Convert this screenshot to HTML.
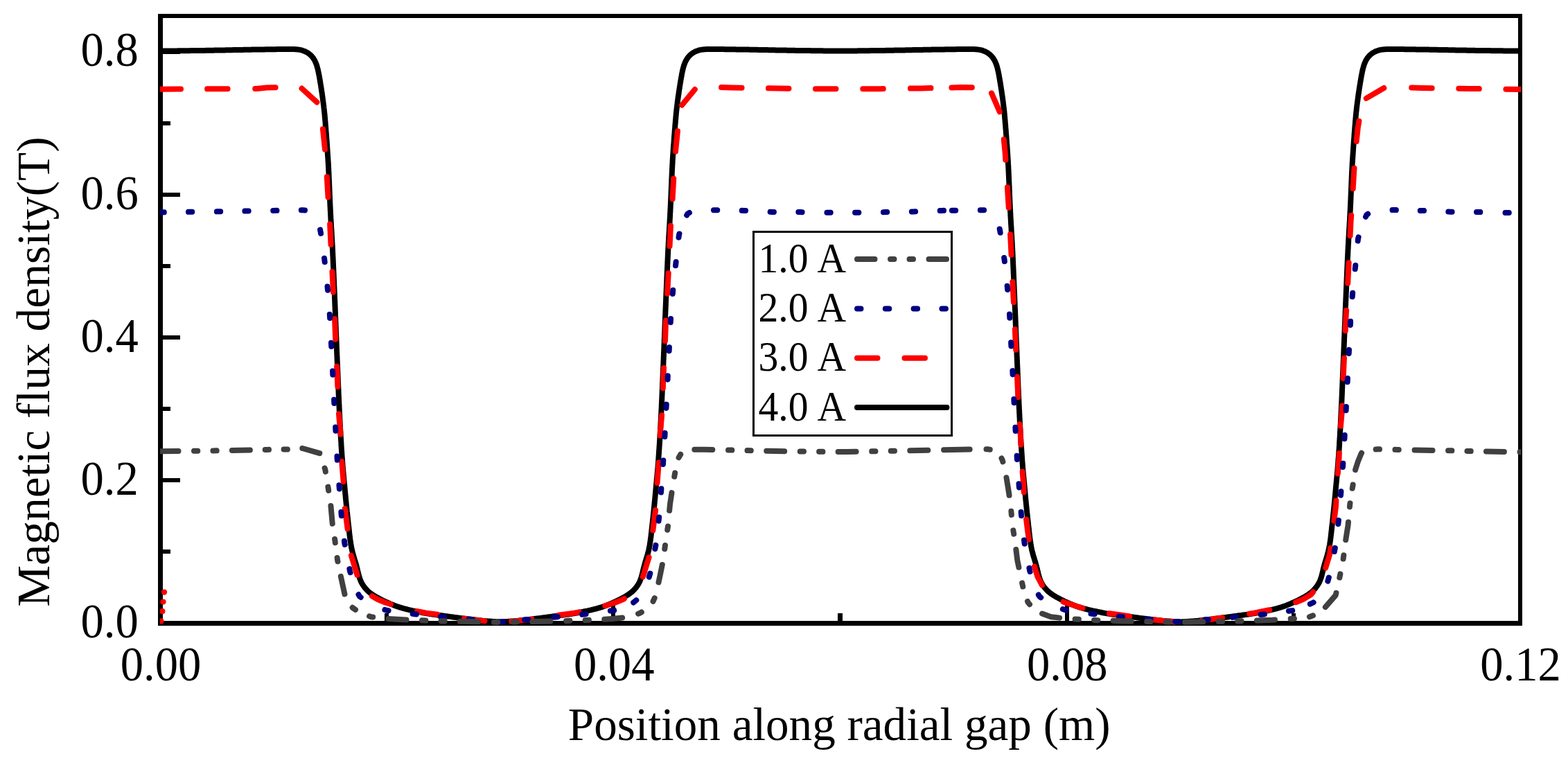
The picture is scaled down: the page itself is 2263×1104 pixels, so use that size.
<!DOCTYPE html>
<html lang="en">
<head>
<meta charset="utf-8">
<title>Magnetic flux density along radial gap</title>
<style>
html,body{margin:0;padding:0;background:#fff;}
body{width:2263px;height:1104px;overflow:hidden;}
svg{display:block;}
</style>
</head>
<body>
<svg width="2263" height="1104" viewBox="0 0 2263 1104">
<rect x="0" y="0" width="2263" height="1104" fill="#fff"/>
<g fill="#000">
<rect x="235" y="793" width="11" height="6"/>
<rect x="235" y="690" width="25" height="6"/>
<rect x="235" y="587" width="11" height="6"/>
<rect x="235" y="484" width="25" height="6"/>
<rect x="235" y="381" width="11" height="6"/>
<rect x="235" y="278" width="25" height="6"/>
<rect x="235" y="175" width="11" height="6"/>
<rect x="235" y="72" width="25" height="6"/>
<rect x="555" y="885" width="6" height="11"/>
<rect x="882" y="871" width="6" height="25"/>
<rect x="1209" y="885" width="7" height="11"/>
<rect x="1537" y="871" width="6" height="25"/>
<rect x="1864" y="885" width="6" height="11"/>
</g>
<g fill="#000"><rect x="228" y="20" width="7" height="883"/><rect x="228" y="20" width="1969" height="6"/><rect x="2191" y="20" width="6" height="883"/><rect x="228" y="896" width="1969" height="7"/></g>
<clipPath id="c"><rect x="231" y="20" width="1964" height="883"/></clipPath>
<g clip-path="url(#c)" fill="none" stroke-linecap="round" stroke-linejoin="round" stroke-width="8">
<path d="M231.5,73.6 L233.0,73.6 L234.5,73.6 L236.0,73.6 L237.5,73.5 L239.0,73.5 L240.5,73.5 L242.0,73.5 L243.5,73.5 L245.0,73.5 L246.5,73.5 L248.0,73.4 L249.5,73.4 L251.0,73.4 L252.5,73.4 L254.0,73.4 L255.5,73.4 L257.0,73.3 L258.5,73.3 L260.0,73.3 L261.5,73.3 L263.0,73.3 L264.5,73.3 L266.0,73.2 L267.5,73.2 L269.0,73.2 L270.5,73.2 L272.0,73.2 L273.5,73.2 L275.0,73.1 L276.5,73.1 L278.0,73.1 L279.5,73.1 L281.0,73.1 L282.5,73.0 L284.0,73.0 L285.5,73.0 L287.0,73.0 L288.5,73.0 L290.0,72.9 L291.5,72.9 L293.0,72.9 L294.5,72.9 L296.0,72.9 L297.5,72.8 L299.0,72.8 L300.5,72.8 L302.0,72.8 L303.5,72.7 L305.0,72.7 L306.5,72.7 L308.0,72.7 L309.5,72.6 L311.0,72.6 L312.5,72.6 L314.0,72.6 L315.5,72.5 L317.0,72.5 L318.5,72.5 L320.0,72.5 L321.5,72.4 L323.0,72.4 L324.5,72.4 L326.1,72.3 L327.6,72.3 L329.1,72.3 L330.6,72.2 L332.1,72.2 L333.6,72.2 L335.1,72.2 L336.6,72.1 L338.1,72.1 L339.6,72.1 L341.1,72.0 L342.6,72.0 L344.1,72.0 L345.6,71.9 L347.1,71.9 L348.6,71.9 L350.1,71.9 L351.6,71.8 L353.1,71.8 L354.6,71.8 L356.1,71.8 L357.6,71.7 L359.1,71.7 L360.6,71.7 L362.1,71.7 L363.6,71.6 L365.1,71.6 L366.6,71.6 L368.1,71.6 L369.6,71.5 L371.1,71.5 L372.6,71.5 L374.1,71.5 L375.6,71.5 L377.1,71.4 L378.6,71.4 L380.1,71.4 L381.6,71.4 L383.1,71.3 L384.6,71.3 L386.1,71.3 L387.6,71.3 L389.1,71.3 L390.6,71.2 L392.1,71.2 L393.6,71.2 L395.1,71.2 L396.6,71.2 L398.1,71.2 L399.6,71.1 L401.1,71.1 L402.6,71.1 L404.1,71.1 L405.6,71.1 L407.1,71.1 L408.6,71.1 L410.1,71.0 L411.6,71.0 L413.1,71.0 L414.6,71.0 L416.1,71.0 L417.6,71.0 L419.1,71.0 L420.6,71.0 L422.1,71.0 L423.6,71.1 L425.1,71.1 L426.6,71.2 L428.1,71.3 L429.6,71.4 L431.0,71.6 L432.5,71.8 L434.0,72.1 L435.4,72.4 L436.8,72.9 L438.2,73.4 L439.6,73.9 L440.9,74.5 L442.2,75.2 L443.5,75.9 L444.8,76.7 L446.0,77.6 L447.1,78.5 L448.2,79.5 L449.3,80.5 L450.3,81.6 L451.2,82.8 L452.1,83.9 L452.9,85.2 L453.7,86.4 L454.4,87.7 L455.0,89.1 L455.6,90.4 L456.2,91.8 L456.7,93.2 L457.2,94.6 L457.6,96.1 L458.0,97.5 L458.4,99.0 L458.8,100.4 L459.1,101.9 L459.4,103.3 L459.7,104.8 L460.0,106.3 L460.3,107.8 L460.6,109.2 L460.9,110.7 L461.1,112.2 L461.4,113.7 L461.6,115.1 L461.9,116.6 L462.1,118.1 L462.4,119.6 L462.6,121.1 L462.9,122.5 L463.1,124.0 L463.3,125.5 L463.6,127.0 L463.8,128.5 L464.0,130.0 L464.2,131.5 L464.4,132.9 L464.7,134.4 L464.9,135.9 L465.1,137.4 L465.3,138.9 L465.5,140.4 L465.7,141.9 L465.9,143.3 L466.1,144.8 L466.3,146.3 L466.5,147.8 L466.7,149.3 L466.9,150.8 L467.1,152.3 L467.3,153.8 L467.4,155.3 L467.6,156.7 L467.8,158.2 L467.9,159.7 L468.1,161.2 L468.3,162.7 L468.4,164.2 L468.6,165.7 L468.7,167.2 L468.8,168.7 L469.0,170.2 L469.1,171.7 L469.2,173.2 L469.4,174.7 L469.5,176.2 L469.6,177.7 L469.7,179.2 L469.8,180.6 L470.0,182.1 L470.1,183.6 L470.2,185.1 L470.3,186.6 L470.4,188.1 L470.5,189.6 L470.7,191.1 L470.8,192.6 L470.9,194.1 L471.0,195.6 L471.1,197.1 L471.2,198.6 L471.3,200.1 L471.5,201.6 L471.6,203.1 L471.7,204.6 L471.8,206.1 L471.9,207.6 L472.0,209.1 L472.1,210.6 L472.2,212.1 L472.3,213.6 L472.4,215.1 L472.5,216.6 L472.6,218.1 L472.7,219.6 L472.8,221.1 L472.9,222.6 L473.0,224.1 L473.1,225.6 L473.2,227.1 L473.3,228.6 L473.4,230.1 L473.5,231.5 L473.6,233.0 L473.7,234.5 L473.8,236.0 L473.9,237.5 L473.9,239.0 L474.0,240.5 L474.1,242.0 L474.2,243.5 L474.2,245.0 L474.3,246.5 L474.4,248.0 L474.5,249.5 L474.5,251.0 L474.6,252.5 L474.7,254.0 L474.7,255.5 L474.8,257.0 L474.9,258.5 L474.9,260.0 L475.0,261.5 L475.1,263.0 L475.1,264.5 L475.2,266.0 L475.2,267.5 L475.3,269.0 L475.4,270.5 L475.4,272.0 L475.5,273.5 L475.5,275.0 L475.6,276.5 L475.7,278.0 L475.7,279.5 L475.8,281.0 L475.9,282.5 L475.9,284.0 L476.0,285.5 L476.0,287.0 L476.1,288.5 L476.2,290.0 L476.2,291.5 L476.3,293.0 L476.4,294.5 L476.4,296.0 L476.5,297.5 L476.6,299.0 L476.7,300.5 L476.7,302.0 L476.8,303.5 L476.9,305.0 L477.0,306.5 L477.0,308.0 L477.1,309.5 L477.2,311.0 L477.3,312.5 L477.3,314.0 L477.4,315.5 L477.5,317.0 L477.6,318.5 L477.7,320.0 L477.8,321.5 L477.9,323.0 L477.9,324.5 L478.0,326.0 L478.1,327.5 L478.2,329.0 L478.3,330.5 L478.4,332.0 L478.5,333.5 L478.6,335.0 L478.7,336.5 L478.7,338.0 L478.8,339.5 L478.9,341.0 L479.0,342.5 L479.1,344.0 L479.2,345.5 L479.3,347.0 L479.3,348.5 L479.4,350.0 L479.5,351.5 L479.6,353.0 L479.7,354.5 L479.8,356.0 L479.8,357.5 L479.9,359.0 L480.0,360.5 L480.1,362.0 L480.1,363.5 L480.2,365.0 L480.3,366.5 L480.3,368.0 L480.4,369.5 L480.5,371.0 L480.6,372.5 L480.6,374.0 L480.7,375.5 L480.8,377.0 L480.8,378.5 L480.9,380.0 L481.0,381.5 L481.0,383.0 L481.1,384.5 L481.2,386.0 L481.2,387.5 L481.3,389.0 L481.4,390.5 L481.4,392.0 L481.5,393.5 L481.6,395.0 L481.6,396.5 L481.7,397.9 L481.7,399.4 L481.8,400.9 L481.9,402.4 L481.9,403.9 L482.0,405.4 L482.1,406.9 L482.1,408.4 L482.2,409.9 L482.2,411.4 L482.3,412.9 L482.4,414.4 L482.4,415.9 L482.5,417.4 L482.6,418.9 L482.6,420.4 L482.7,421.9 L482.8,423.4 L482.8,424.9 L482.9,426.4 L482.9,427.9 L483.0,429.4 L483.1,430.9 L483.1,432.4 L483.2,433.9 L483.3,435.4 L483.3,436.9 L483.4,438.4 L483.4,439.9 L483.5,441.4 L483.6,442.9 L483.6,444.4 L483.7,445.9 L483.7,447.4 L483.8,448.9 L483.9,450.4 L483.9,451.9 L484.0,453.4 L484.0,454.9 L484.1,456.4 L484.2,457.9 L484.2,459.4 L484.3,460.9 L484.3,462.4 L484.4,463.9 L484.5,465.4 L484.5,466.9 L484.6,468.4 L484.6,469.9 L484.7,471.4 L484.8,472.9 L484.8,474.4 L484.9,475.9 L484.9,477.4 L485.0,478.9 L485.1,480.4 L485.1,481.9 L485.2,483.4 L485.2,484.9 L485.3,486.4 L485.4,487.9 L485.4,489.4 L485.5,490.9 L485.5,492.4 L485.6,493.9 L485.7,495.4 L485.7,496.9 L485.8,498.4 L485.8,499.9 L485.9,501.4 L486.0,502.9 L486.0,504.4 L486.1,505.9 L486.1,507.4 L486.2,508.9 L486.3,510.4 L486.3,511.9 L486.4,513.4 L486.5,514.9 L486.5,516.4 L486.6,517.9 L486.6,519.4 L486.7,520.9 L486.8,522.4 L486.8,523.9 L486.9,525.4 L487.0,526.9 L487.0,528.4 L487.1,529.9 L487.1,531.4 L487.2,532.9 L487.3,534.4 L487.3,535.9 L487.4,537.4 L487.5,538.9 L487.5,540.4 L487.6,541.9 L487.6,543.4 L487.7,544.9 L487.8,546.4 L487.8,547.9 L487.9,549.4 L487.9,550.9 L488.0,552.4 L488.1,553.9 L488.1,555.4 L488.2,556.9 L488.3,558.4 L488.3,559.9 L488.4,561.4 L488.5,562.9 L488.5,564.4 L488.6,565.9 L488.6,567.4 L488.7,568.9 L488.8,570.4 L488.8,571.9 L488.9,573.4 L489.0,574.9 L489.0,576.4 L489.1,577.9 L489.2,579.4 L489.2,580.9 L489.3,582.4 L489.4,583.9 L489.5,585.4 L489.5,586.9 L489.6,588.4 L489.7,589.9 L489.7,591.4 L489.8,592.9 L489.9,594.4 L490.0,595.9 L490.0,597.4 L490.1,598.9 L490.2,600.4 L490.3,601.9 L490.3,603.4 L490.4,604.9 L490.5,606.4 L490.6,607.9 L490.6,609.4 L490.7,610.9 L490.8,612.4 L490.9,613.9 L491.0,615.4 L491.0,616.9 L491.1,618.4 L491.2,619.9 L491.3,621.4 L491.4,622.9 L491.5,624.4 L491.5,625.9 L491.6,627.4 L491.7,628.9 L491.8,630.4 L491.9,631.9 L492.0,633.4 L492.1,634.9 L492.2,636.4 L492.3,637.9 L492.4,639.4 L492.4,640.9 L492.5,642.4 L492.6,643.9 L492.7,645.4 L492.8,646.9 L492.9,648.4 L493.0,649.9 L493.1,651.3 L493.2,652.8 L493.3,654.3 L493.4,655.8 L493.5,657.3 L493.6,658.8 L493.7,660.3 L493.9,661.8 L494.0,663.3 L494.1,664.8 L494.2,666.3 L494.3,667.8 L494.4,669.3 L494.5,670.8 L494.6,672.3 L494.8,673.8 L494.9,675.3 L495.0,676.8 L495.1,678.3 L495.3,679.8 L495.4,681.3 L495.6,682.8 L495.7,684.3 L495.8,685.8 L496.0,687.3 L496.1,688.7 L496.3,690.2 L496.4,691.7 L496.5,693.2 L496.7,694.7 L496.8,696.2 L497.0,697.7 L497.1,699.2 L497.3,700.7 L497.4,702.2 L497.5,703.7 L497.7,705.2 L497.8,706.7 L497.9,708.2 L498.1,709.7 L498.2,711.2 L498.3,712.7 L498.5,714.2 L498.6,715.6 L498.8,717.1 L498.9,718.6 L499.0,720.1 L499.2,721.6 L499.3,723.1 L499.5,724.6 L499.6,726.1 L499.8,727.6 L499.9,729.1 L500.1,730.6 L500.2,732.1 L500.4,733.6 L500.5,735.1 L500.7,736.6 L500.8,738.1 L501.0,739.5 L501.2,741.0 L501.3,742.5 L501.5,744.0 L501.6,745.5 L501.8,747.0 L502.0,748.5 L502.1,750.0 L502.3,751.5 L502.4,753.0 L502.6,754.5 L502.8,756.0 L502.9,757.5 L503.1,758.9 L503.3,760.4 L503.4,761.9 L503.6,763.4 L503.7,764.9 L503.9,766.4 L504.1,767.9 L504.2,769.4 L504.4,770.9 L504.6,772.4 L504.8,773.9 L504.9,775.4 L505.1,776.8 L505.3,778.3 L505.5,779.8 L505.7,781.3 L506.0,782.8 L506.2,784.3 L506.4,785.8 L506.7,787.2 L507.0,788.7 L507.2,790.2 L507.5,791.6 L507.9,793.1 L508.2,794.6 L508.5,796.0 L508.9,797.5 L509.3,798.9 L509.7,800.4 L510.1,801.8 L510.5,803.3 L510.9,804.7 L511.4,806.1 L511.8,807.6 L512.3,809.0 L512.7,810.4 L513.1,811.9 L513.6,813.3 L514.0,814.8 L514.4,816.2 L514.8,817.7 L515.1,819.2 L515.5,820.6 L515.9,822.1 L516.2,823.6 L516.6,825.0 L516.9,826.5 L517.3,828.0 L517.6,829.4 L518.0,830.9 L518.4,832.3 L518.9,833.7 L519.3,835.1 L519.9,836.5 L520.4,837.9 L521.0,839.2 L521.6,840.6 L522.3,841.9 L523.1,843.2 L523.9,844.4 L524.7,845.7 L525.6,846.9 L526.5,848.1 L527.4,849.2 L528.4,850.3 L529.4,851.4 L530.5,852.5 L531.5,853.5 L532.7,854.5 L533.8,855.4 L535.0,856.3 L536.2,857.2 L537.5,858.0 L538.7,858.8 L540.0,859.6 L541.3,860.4 L542.6,861.2 L543.9,861.9 L545.2,862.6 L546.5,863.3 L547.8,864.0 L549.2,864.7 L550.5,865.4 L551.8,866.1 L553.2,866.8 L554.5,867.4 L555.9,868.1 L557.3,868.7 L558.6,869.3 L560.0,869.9 L561.4,870.5 L562.7,871.1 L564.1,871.7 L565.5,872.3 L566.9,872.8 L568.3,873.4 L569.7,873.9 L571.1,874.4 L572.5,874.9 L573.9,875.4 L575.4,875.9 L576.8,876.4 L578.2,876.8 L579.7,877.2 L581.1,877.7 L582.5,878.1 L584.0,878.5 L585.4,878.8 L586.9,879.2 L588.4,879.6 L589.8,879.9 L591.3,880.3 L592.7,880.6 L594.2,880.9 L595.7,881.3 L597.1,881.6 L598.6,881.9 L600.1,882.2 L601.5,882.5 L603.0,882.8 L604.5,883.1 L605.9,883.4 L607.4,883.7 L608.9,884.0 L610.4,884.3 L611.8,884.6 L613.3,884.9 L614.8,885.1 L616.3,885.4 L617.8,885.6 L619.2,885.8 L620.7,886.1 L622.2,886.3 L623.7,886.5 L625.2,886.7 L626.7,886.9 L628.1,887.1 L629.6,887.3 L631.1,887.5 L632.6,887.7 L634.1,887.9 L635.6,888.1 L637.1,888.3 L638.6,888.5 L640.0,888.7 L641.5,888.9 L643.0,889.1 L644.5,889.3 L646.0,889.5 L647.5,889.7 L649.0,889.9 L650.5,890.1 L652.0,890.3 L653.4,890.5 L654.9,890.7 L656.4,890.9 L657.9,891.1 L659.4,891.3 L660.9,891.5 L662.4,891.7 L663.9,891.9 L665.3,892.1 L666.8,892.3 L668.3,892.5 L669.8,892.6 L671.3,892.8 L672.8,893.0 L674.3,893.2 L675.8,893.4 L677.3,893.6 L678.7,893.8 L680.2,894.0 L681.7,894.1 L683.2,894.3 L684.7,894.5 L686.2,894.6 L687.7,894.8 L689.2,895.0 L690.7,895.1 L692.2,895.3 L693.7,895.5 L695.2,895.6 L696.6,895.8 L698.1,895.9 L699.6,896.0 L701.1,896.2 L702.6,896.3 L704.1,896.4 L705.6,896.5 L707.1,896.6 L708.6,896.7 L710.1,896.8 L711.6,896.9 L713.1,897.0 L714.6,897.1 L716.1,897.2 L717.6,897.3 L719.1,897.3 L720.6,897.4 L722.1,897.5 L723.6,897.4 L725.1,897.3 L726.6,897.3 L728.1,897.2 L729.6,897.1 L731.1,897.0 L732.6,896.9 L734.1,896.8 L735.6,896.7 L737.1,896.6 L738.6,896.5 L740.1,896.4 L741.6,896.3 L743.1,896.2 L744.6,896.0 L746.1,895.9 L747.6,895.8 L749.1,895.6 L750.6,895.5 L752.1,895.3 L753.6,895.1 L755.1,895.0 L756.6,894.8 L758.1,894.6 L759.5,894.5 L761.0,894.3 L762.5,894.1 L764.0,894.0 L765.5,893.8 L767.0,893.6 L768.5,893.4 L770.0,893.2 L771.5,893.0 L773.0,892.8 L774.4,892.6 L775.9,892.5 L777.4,892.3 L778.9,892.1 L780.4,891.9 L781.9,891.7 L783.4,891.5 L784.9,891.3 L786.3,891.1 L787.8,890.9 L789.3,890.7 L790.8,890.5 L792.3,890.3 L793.8,890.1 L795.3,889.9 L796.8,889.7 L798.2,889.5 L799.7,889.3 L801.2,889.1 L802.7,888.9 L804.2,888.7 L805.7,888.5 L807.2,888.3 L808.7,888.1 L810.2,887.9 L811.6,887.7 L813.1,887.5 L814.6,887.3 L816.1,887.1 L817.6,886.9 L819.1,886.7 L820.6,886.5 L822.1,886.3 L823.5,886.1 L825.0,885.8 L826.5,885.6 L828.0,885.4 L829.5,885.1 L830.9,884.9 L832.4,884.6 L833.9,884.3 L835.4,884.0 L836.8,883.7 L838.3,883.4 L839.8,883.1 L841.2,882.8 L842.7,882.5 L844.2,882.2 L845.7,881.9 L847.1,881.6 L848.6,881.3 L850.1,880.9 L851.5,880.6 L853.0,880.3 L854.4,879.9 L855.9,879.6 L857.4,879.2 L858.8,878.8 L860.3,878.5 L861.7,878.1 L863.2,877.7 L864.6,877.2 L866.0,876.8 L867.5,876.4 L868.9,875.9 L870.3,875.4 L871.7,874.9 L873.1,874.4 L874.5,873.9 L875.9,873.4 L877.3,872.8 L878.7,872.3 L880.1,871.7 L881.5,871.1 L882.9,870.5 L884.3,869.9 L885.6,869.3 L887.0,868.7 L888.4,868.1 L889.7,867.4 L891.1,866.8 L892.4,866.1 L893.8,865.4 L895.1,864.7 L896.4,864.0 L897.8,863.3 L899.1,862.6 L900.4,861.9 L901.7,861.2 L903.0,860.4 L904.3,859.6 L905.5,858.8 L906.8,858.0 L908.0,857.2 L909.2,856.3 L910.4,855.4 L911.6,854.5 L912.7,853.5 L913.8,852.5 L914.8,851.4 L915.9,850.3 L916.8,849.2 L917.8,848.1 L918.7,846.9 L919.6,845.7 L920.4,844.4 L921.2,843.2 L921.9,841.9 L922.6,840.6 L923.3,839.2 L923.8,837.9 L924.4,836.5 L924.9,835.1 L925.4,833.7 L925.8,832.3 L926.2,830.9 L926.6,829.4 L927.0,828.0 L927.3,826.5 L927.7,825.0 L928.0,823.6 L928.4,822.1 L928.8,820.6 L929.1,819.2 L929.5,817.7 L929.9,816.2 L930.3,814.8 L930.7,813.3 L931.1,811.9 L931.5,810.4 L932.0,809.0 L932.4,807.6 L932.9,806.1 L933.3,804.7 L933.7,803.3 L934.2,801.8 L934.6,800.4 L935.0,798.9 L935.3,797.5 L935.7,796.0 L936.1,794.6 L936.4,793.1 L936.7,791.6 L937.0,790.2 L937.3,788.7 L937.6,787.2 L937.8,785.8 L938.0,784.3 L938.3,782.8 L938.5,781.3 L938.7,779.8 L938.9,778.3 L939.1,776.8 L939.3,775.4 L939.5,773.9 L939.7,772.4 L939.8,770.9 L940.0,769.4 L940.2,767.9 L940.4,766.4 L940.5,764.9 L940.7,763.4 L940.8,761.9 L941.0,760.4 L941.2,758.9 L941.3,757.5 L941.5,756.0 L941.6,754.5 L941.8,753.0 L942.0,751.5 L942.1,750.0 L942.3,748.5 L942.5,747.0 L942.6,745.5 L942.8,744.0 L942.9,742.5 L943.1,741.0 L943.3,739.5 L943.4,738.1 L943.6,736.6 L943.7,735.1 L943.9,733.6 L944.0,732.1 L944.2,730.6 L944.3,729.1 L944.5,727.6 L944.6,726.1 L944.8,724.6 L944.9,723.1 L945.1,721.6 L945.2,720.1 L945.4,718.6 L945.5,717.1 L945.6,715.6 L945.8,714.2 L945.9,712.7 L946.0,711.2 L946.2,709.7 L946.3,708.2 L946.4,706.7 L946.6,705.2 L946.7,703.7 L946.9,702.2 L947.0,700.7 L947.1,699.2 L947.3,697.7 L947.4,696.2 L947.6,694.7 L947.7,693.2 L947.8,691.7 L948.0,690.2 L948.1,688.7 L948.3,687.3 L948.4,685.8 L948.6,684.3 L948.7,682.8 L948.8,681.3 L949.0,679.8 L949.1,678.3 L949.2,676.8 L949.4,675.3 L949.5,673.8 L949.6,672.3 L949.7,670.8 L949.8,669.3 L950.0,667.8 L950.1,666.3 L950.2,664.8 L950.3,663.3 L950.4,661.8 L950.5,660.3 L950.6,658.8 L950.7,657.3 L950.8,655.8 L950.9,654.3 L951.0,652.8 L951.1,651.3 L951.2,649.9 L951.3,648.4 L951.4,646.9 L951.5,645.4 L951.6,643.9 L951.7,642.4 L951.8,640.9 L951.9,639.4 L952.0,637.9 L952.1,636.4 L952.2,634.9 L952.3,633.4 L952.4,631.9 L952.4,630.4 L952.5,628.9 L952.6,627.4 L952.7,625.9 L952.8,624.4 L952.9,622.9 L953.0,621.4 L953.0,619.9 L953.1,618.4 L953.2,616.9 L953.3,615.4 L953.4,613.9 L953.4,612.4 L953.5,610.9 L953.6,609.4 L953.7,607.9 L953.8,606.4 L953.8,604.9 L953.9,603.4 L954.0,601.9 L954.1,600.4 L954.1,598.9 L954.2,597.4 L954.3,595.9 L954.4,594.4 L954.4,592.9 L954.5,591.4 L954.6,589.9 L954.7,588.4 L954.7,586.9 L954.8,585.4 L954.9,583.9 L954.9,582.4 L955.0,580.9 L955.1,579.4 L955.1,577.9 L955.2,576.4 L955.3,574.9 L955.3,573.4 L955.4,571.9 L955.5,570.4 L955.5,568.9 L955.6,567.4 L955.7,565.9 L955.7,564.4 L955.8,562.9 L955.9,561.4 L955.9,559.9 L956.0,558.4 L956.1,556.9 L956.1,555.4 L956.2,553.9 L956.2,552.4 L956.3,550.9 L956.4,549.4 L956.4,547.9 L956.5,546.4 L956.5,544.9 L956.6,543.4 L956.7,541.9 L956.7,540.4 L956.8,538.9 L956.9,537.4 L956.9,535.9 L957.0,534.4 L957.0,532.9 L957.1,531.4 L957.2,529.9 L957.2,528.4 L957.3,526.9 L957.4,525.4 L957.4,523.9 L957.5,522.4 L957.5,520.9 L957.6,519.4 L957.7,517.9 L957.7,516.4 L957.8,514.9 L957.9,513.4 L957.9,511.9 L958.0,510.4 L958.0,508.9 L958.1,507.4 L958.2,505.9 L958.2,504.4 L958.3,502.9 L958.4,501.4 L958.4,499.9 L958.5,498.4 L958.5,496.9 L958.6,495.4 L958.7,493.9 L958.7,492.4 L958.8,490.9 L958.8,489.4 L958.9,487.9 L959.0,486.4 L959.0,484.9 L959.1,483.4 L959.1,481.9 L959.2,480.4 L959.3,478.9 L959.3,477.4 L959.4,475.9 L959.4,474.4 L959.5,472.9 L959.5,471.4 L959.6,469.9 L959.7,468.4 L959.7,466.9 L959.8,465.4 L959.8,463.9 L959.9,462.4 L960.0,460.9 L960.0,459.4 L960.1,457.9 L960.1,456.4 L960.2,454.9 L960.3,453.4 L960.3,451.9 L960.4,450.4 L960.4,448.9 L960.5,447.4 L960.6,445.9 L960.6,444.4 L960.7,442.9 L960.8,441.4 L960.8,439.9 L960.9,438.4 L960.9,436.9 L961.0,435.4 L961.1,433.9 L961.1,432.4 L961.2,430.9 L961.2,429.4 L961.3,427.9 L961.4,426.4 L961.4,424.9 L961.5,423.4 L961.6,421.9 L961.6,420.4 L961.7,418.9 L961.8,417.4 L961.8,415.9 L961.9,414.4 L961.9,412.9 L962.0,411.4 L962.1,409.9 L962.1,408.4 L962.2,406.9 L962.3,405.4 L962.3,403.9 L962.4,402.4 L962.4,400.9 L962.5,399.4 L962.6,397.9 L962.6,396.5 L962.7,395.0 L962.8,393.5 L962.8,392.0 L962.9,390.5 L963.0,389.0 L963.0,387.5 L963.1,386.0 L963.2,384.5 L963.2,383.0 L963.3,381.5 L963.4,380.0 L963.4,378.5 L963.5,377.0 L963.6,375.5 L963.6,374.0 L963.7,372.5 L963.8,371.0 L963.8,369.5 L963.9,368.0 L964.0,366.5 L964.0,365.0 L964.1,363.5 L964.2,362.0 L964.3,360.5 L964.3,359.0 L964.4,357.5 L964.5,356.0 L964.6,354.5 L964.7,353.0 L964.7,351.5 L964.8,350.0 L964.9,348.5 L965.0,347.0 L965.1,345.5 L965.2,344.0 L965.2,342.5 L965.3,341.0 L965.4,339.5 L965.5,338.0 L965.6,336.5 L965.7,335.0 L965.8,333.5 L965.9,332.0 L965.9,330.5 L966.0,329.0 L966.1,327.5 L966.2,326.0 L966.3,324.5 L966.4,323.0 L966.5,321.5 L966.6,320.0 L966.6,318.5 L966.7,317.0 L966.8,315.5 L966.9,314.0 L967.0,312.5 L967.1,311.0 L967.1,309.5 L967.2,308.0 L967.3,306.5 L967.4,305.0 L967.4,303.5 L967.5,302.0 L967.6,300.5 L967.7,299.0 L967.7,297.5 L967.8,296.0 L967.9,294.5 L967.9,293.0 L968.0,291.5 L968.1,290.0 L968.1,288.5 L968.2,287.0 L968.3,285.5 L968.3,284.0 L968.4,282.5 L968.5,281.0 L968.5,279.5 L968.6,278.0 L968.6,276.5 L968.7,275.0 L968.8,273.5 L968.8,272.0 L968.9,270.5 L968.9,269.0 L969.0,267.5 L969.1,266.0 L969.1,264.5 L969.2,263.0 L969.3,261.5 L969.3,260.0 L969.4,258.5 L969.5,257.0 L969.5,255.5 L969.6,254.0 L969.7,252.5 L969.7,251.0 L969.8,249.5 L969.9,248.0 L969.9,246.5 L970.0,245.0 L970.1,243.5 L970.2,242.0 L970.2,240.5 L970.3,239.0 L970.4,237.5 L970.5,236.0 L970.6,234.5 L970.6,233.0 L970.7,231.5 L970.8,230.1 L970.9,228.6 L971.0,227.1 L971.1,225.6 L971.2,224.1 L971.3,222.6 L971.4,221.1 L971.5,219.6 L971.6,218.1 L971.7,216.6 L971.8,215.1 L971.9,213.6 L972.0,212.1 L972.1,210.6 L972.2,209.1 L972.4,207.6 L972.5,206.1 L972.6,204.6 L972.7,203.1 L972.8,201.6 L972.9,200.1 L973.0,198.6 L973.1,197.1 L973.2,195.6 L973.4,194.1 L973.5,192.6 L973.6,191.1 L973.7,189.6 L973.8,188.1 L973.9,186.6 L974.1,185.1 L974.2,183.6 L974.3,182.1 L974.4,180.6 L974.5,179.2 L974.7,177.7 L974.8,176.2 L974.9,174.7 L975.0,173.2 L975.2,171.7 L975.3,170.2 L975.4,168.7 L975.6,167.2 L975.7,165.7 L975.8,164.2 L976.0,162.7 L976.1,161.2 L976.3,159.7 L976.5,158.2 L976.6,156.7 L976.8,155.3 L977.0,153.8 L977.2,152.3 L977.4,150.8 L977.6,149.3 L977.7,147.8 L977.9,146.3 L978.1,144.8 L978.3,143.3 L978.5,141.9 L978.7,140.4 L978.9,138.9 L979.2,137.4 L979.4,135.9 L979.6,134.4 L979.8,132.9 L980.0,131.5 L980.2,130.0 L980.5,128.5 L980.7,127.0 L980.9,125.5 L981.2,124.0 L981.4,122.5 L981.6,121.1 L981.9,119.6 L982.1,118.1 L982.4,116.6 L982.6,115.1 L982.9,113.7 L983.1,112.2 L983.4,110.7 L983.7,109.2 L983.9,107.8 L984.2,106.3 L984.5,104.8 L984.8,103.3 L985.1,101.9 L985.5,100.4 L985.8,99.0 L986.2,97.5 L986.6,96.1 L987.1,94.6 L987.5,93.2 L988.1,91.8 L988.6,90.4 L989.2,89.1 L989.9,87.7 L990.6,86.4 L991.3,85.2 L992.2,83.9 L993.0,82.8 L994.0,81.6 L995.0,80.5 L996.0,79.5 L997.1,78.5 L998.3,77.6 L999.5,76.7 L1000.7,75.9 L1002.0,75.2 L1003.3,74.5 L1004.7,73.9 L1006.0,73.4 L1007.4,72.9 L1008.9,72.4 L1010.3,72.1 L1011.7,71.8 L1013.2,71.6 L1014.7,71.4 L1016.2,71.3 L1017.6,71.2 L1019.1,71.1 L1020.6,71.1 L1022.1,71.0 L1023.6,71.0 L1025.1,71.0 L1026.6,71.0 L1028.1,71.0 L1029.7,71.0 L1031.2,71.0 L1032.7,71.0 L1034.2,71.0 L1035.7,71.1 L1037.2,71.1 L1038.7,71.1 L1040.2,71.1 L1041.7,71.1 L1043.2,71.1 L1044.7,71.1 L1046.2,71.2 L1047.7,71.2 L1049.2,71.2 L1050.7,71.2 L1052.2,71.2 L1053.7,71.2 L1055.2,71.3 L1056.7,71.3 L1058.2,71.3 L1059.7,71.3 L1061.2,71.3 L1062.7,71.4 L1064.2,71.4 L1065.7,71.4 L1067.2,71.4 L1068.7,71.5 L1070.2,71.5 L1071.7,71.5 L1073.2,71.5 L1074.7,71.5 L1076.2,71.6 L1077.7,71.6 L1079.2,71.6 L1080.7,71.6 L1082.2,71.7 L1083.7,71.7 L1085.2,71.7 L1086.7,71.7 L1088.2,71.8 L1089.7,71.8 L1091.2,71.8 L1092.7,71.8 L1094.2,71.9 L1095.7,71.9 L1097.2,71.9 L1098.7,71.9 L1100.2,72.0 L1101.7,72.0 L1103.2,72.0 L1104.7,72.1 L1106.2,72.1 L1107.7,72.1 L1109.2,72.2 L1110.7,72.2 L1112.2,72.2 L1113.7,72.2 L1115.2,72.3 L1116.7,72.3 L1118.2,72.3 L1119.7,72.4 L1121.2,72.4 L1122.7,72.4 L1124.2,72.5 L1125.7,72.5 L1127.2,72.5 L1128.7,72.5 L1130.2,72.6 L1131.7,72.6 L1133.2,72.6 L1134.7,72.6 L1136.2,72.7 L1137.7,72.7 L1139.2,72.7 L1140.7,72.7 L1142.2,72.8 L1143.7,72.8 L1145.2,72.8 L1146.7,72.8 L1148.2,72.9 L1149.7,72.9 L1151.2,72.9 L1152.7,72.9 L1154.2,72.9 L1155.7,73.0 L1157.2,73.0 L1158.7,73.0 L1160.2,73.0 L1161.7,73.0 L1163.2,73.1 L1164.7,73.1 L1166.2,73.1 L1167.7,73.1 L1169.2,73.1 L1170.7,73.2 L1172.2,73.2 L1173.7,73.2 L1175.2,73.2 L1176.7,73.2 L1178.2,73.2 L1179.7,73.3 L1181.2,73.3 L1182.7,73.3 L1184.2,73.3 L1185.7,73.3 L1187.2,73.3 L1188.7,73.4 L1190.2,73.4 L1191.7,73.4 L1193.2,73.4 L1194.7,73.4 L1196.2,73.4 L1197.7,73.5 L1199.2,73.5 L1200.7,73.5 L1202.2,73.5 L1203.7,73.5 L1205.2,73.5 L1206.7,73.5 L1208.2,73.6 L1209.7,73.6 L1211.2,73.6 L1212.8,73.6 L1214.3,73.6 L1215.8,73.6 L1217.3,73.6 L1218.8,73.5 L1220.3,73.5 L1221.8,73.5 L1223.3,73.5 L1224.8,73.5 L1226.3,73.5 L1227.8,73.5 L1229.3,73.4 L1230.8,73.4 L1232.3,73.4 L1233.8,73.4 L1235.3,73.4 L1236.8,73.4 L1238.3,73.3 L1239.8,73.3 L1241.3,73.3 L1242.8,73.3 L1244.3,73.3 L1245.8,73.3 L1247.3,73.2 L1248.8,73.2 L1250.3,73.2 L1251.8,73.2 L1253.3,73.2 L1254.8,73.2 L1256.3,73.1 L1257.8,73.1 L1259.3,73.1 L1260.8,73.1 L1262.3,73.1 L1263.8,73.0 L1265.3,73.0 L1266.8,73.0 L1268.3,73.0 L1269.8,73.0 L1271.3,72.9 L1272.8,72.9 L1274.3,72.9 L1275.8,72.9 L1277.3,72.9 L1278.8,72.8 L1280.3,72.8 L1281.8,72.8 L1283.3,72.8 L1284.8,72.7 L1286.3,72.7 L1287.8,72.7 L1289.3,72.7 L1290.8,72.6 L1292.3,72.6 L1293.8,72.6 L1295.3,72.6 L1296.8,72.5 L1298.3,72.5 L1299.8,72.5 L1301.3,72.5 L1302.8,72.4 L1304.3,72.4 L1305.8,72.4 L1307.3,72.3 L1308.8,72.3 L1310.3,72.3 L1311.8,72.2 L1313.3,72.2 L1314.8,72.2 L1316.3,72.2 L1317.8,72.1 L1319.3,72.1 L1320.8,72.1 L1322.3,72.0 L1323.8,72.0 L1325.3,72.0 L1326.8,71.9 L1328.3,71.9 L1329.8,71.9 L1331.3,71.9 L1332.8,71.8 L1334.3,71.8 L1335.8,71.8 L1337.3,71.8 L1338.8,71.7 L1340.3,71.7 L1341.8,71.7 L1343.3,71.7 L1344.8,71.6 L1346.3,71.6 L1347.8,71.6 L1349.3,71.6 L1350.8,71.5 L1352.3,71.5 L1353.8,71.5 L1355.3,71.5 L1356.8,71.5 L1358.3,71.4 L1359.8,71.4 L1361.3,71.4 L1362.8,71.4 L1364.3,71.3 L1365.8,71.3 L1367.3,71.3 L1368.8,71.3 L1370.3,71.3 L1371.8,71.2 L1373.3,71.2 L1374.8,71.2 L1376.3,71.2 L1377.8,71.2 L1379.3,71.2 L1380.8,71.1 L1382.3,71.1 L1383.8,71.1 L1385.3,71.1 L1386.8,71.1 L1388.3,71.1 L1389.8,71.1 L1391.3,71.0 L1392.8,71.0 L1394.3,71.0 L1395.8,71.0 L1397.4,71.0 L1398.9,71.0 L1400.4,71.0 L1401.9,71.0 L1403.4,71.0 L1404.9,71.1 L1406.4,71.1 L1407.9,71.2 L1409.3,71.3 L1410.8,71.4 L1412.3,71.6 L1413.8,71.8 L1415.2,72.1 L1416.6,72.4 L1418.1,72.9 L1419.5,73.4 L1420.8,73.9 L1422.2,74.5 L1423.5,75.2 L1424.8,75.9 L1426.0,76.7 L1427.2,77.6 L1428.4,78.5 L1429.5,79.5 L1430.5,80.5 L1431.5,81.6 L1432.5,82.8 L1433.3,83.9 L1434.2,85.2 L1434.9,86.4 L1435.6,87.7 L1436.3,89.1 L1436.9,90.4 L1437.4,91.8 L1438.0,93.2 L1438.4,94.6 L1438.9,96.1 L1439.3,97.5 L1439.7,99.0 L1440.0,100.4 L1440.4,101.9 L1440.7,103.3 L1441.0,104.8 L1441.3,106.3 L1441.6,107.8 L1441.8,109.2 L1442.1,110.7 L1442.4,112.2 L1442.6,113.7 L1442.9,115.1 L1443.1,116.6 L1443.4,118.1 L1443.6,119.6 L1443.9,121.1 L1444.1,122.5 L1444.3,124.0 L1444.6,125.5 L1444.8,127.0 L1445.0,128.5 L1445.3,130.0 L1445.5,131.5 L1445.7,132.9 L1445.9,134.4 L1446.1,135.9 L1446.3,137.4 L1446.6,138.9 L1446.8,140.4 L1447.0,141.9 L1447.2,143.3 L1447.4,144.8 L1447.6,146.3 L1447.8,147.8 L1447.9,149.3 L1448.1,150.8 L1448.3,152.3 L1448.5,153.8 L1448.7,155.3 L1448.9,156.7 L1449.0,158.2 L1449.2,159.7 L1449.4,161.2 L1449.5,162.7 L1449.7,164.2 L1449.8,165.7 L1449.9,167.2 L1450.1,168.7 L1450.2,170.2 L1450.3,171.7 L1450.5,173.2 L1450.6,174.7 L1450.7,176.2 L1450.8,177.7 L1451.0,179.2 L1451.1,180.6 L1451.2,182.1 L1451.3,183.6 L1451.4,185.1 L1451.6,186.6 L1451.7,188.1 L1451.8,189.6 L1451.9,191.1 L1452.0,192.6 L1452.1,194.1 L1452.3,195.6 L1452.4,197.1 L1452.5,198.6 L1452.6,200.1 L1452.7,201.6 L1452.8,203.1 L1452.9,204.6 L1453.0,206.1 L1453.1,207.6 L1453.3,209.1 L1453.4,210.6 L1453.5,212.1 L1453.6,213.6 L1453.7,215.1 L1453.8,216.6 L1453.9,218.1 L1454.0,219.6 L1454.1,221.1 L1454.2,222.6 L1454.3,224.1 L1454.4,225.6 L1454.5,227.1 L1454.6,228.6 L1454.7,230.1 L1454.8,231.5 L1454.9,233.0 L1454.9,234.5 L1455.0,236.0 L1455.1,237.5 L1455.2,239.0 L1455.3,240.5 L1455.3,242.0 L1455.4,243.5 L1455.5,245.0 L1455.6,246.5 L1455.6,248.0 L1455.7,249.5 L1455.8,251.0 L1455.8,252.5 L1455.9,254.0 L1456.0,255.5 L1456.0,257.0 L1456.1,258.5 L1456.2,260.0 L1456.2,261.5 L1456.3,263.0 L1456.4,264.5 L1456.4,266.0 L1456.5,267.5 L1456.6,269.0 L1456.6,270.5 L1456.7,272.0 L1456.7,273.5 L1456.8,275.0 L1456.9,276.5 L1456.9,278.0 L1457.0,279.5 L1457.0,281.0 L1457.1,282.5 L1457.2,284.0 L1457.2,285.5 L1457.3,287.0 L1457.4,288.5 L1457.4,290.0 L1457.5,291.5 L1457.6,293.0 L1457.6,294.5 L1457.7,296.0 L1457.8,297.5 L1457.8,299.0 L1457.9,300.5 L1458.0,302.0 L1458.1,303.5 L1458.1,305.0 L1458.2,306.5 L1458.3,308.0 L1458.4,309.5 L1458.4,311.0 L1458.5,312.5 L1458.6,314.0 L1458.7,315.5 L1458.8,317.0 L1458.9,318.5 L1458.9,320.0 L1459.0,321.5 L1459.1,323.0 L1459.2,324.5 L1459.3,326.0 L1459.4,327.5 L1459.5,329.0 L1459.6,330.5 L1459.6,332.0 L1459.7,333.5 L1459.8,335.0 L1459.9,336.5 L1460.0,338.0 L1460.1,339.5 L1460.2,341.0 L1460.3,342.5 L1460.3,344.0 L1460.4,345.5 L1460.5,347.0 L1460.6,348.5 L1460.7,350.0 L1460.8,351.5 L1460.8,353.0 L1460.9,354.5 L1461.0,356.0 L1461.1,357.5 L1461.2,359.0 L1461.2,360.5 L1461.3,362.0 L1461.4,363.5 L1461.5,365.0 L1461.5,366.5 L1461.6,368.0 L1461.7,369.5 L1461.7,371.0 L1461.8,372.5 L1461.9,374.0 L1461.9,375.5 L1462.0,377.0 L1462.1,378.5 L1462.1,380.0 L1462.2,381.5 L1462.3,383.0 L1462.3,384.5 L1462.4,386.0 L1462.5,387.5 L1462.5,389.0 L1462.6,390.5 L1462.7,392.0 L1462.7,393.5 L1462.8,395.0 L1462.9,396.5 L1462.9,397.9 L1463.0,399.4 L1463.1,400.9 L1463.1,402.4 L1463.2,403.9 L1463.2,405.4 L1463.3,406.9 L1463.4,408.4 L1463.4,409.9 L1463.5,411.4 L1463.6,412.9 L1463.6,414.4 L1463.7,415.9 L1463.7,417.4 L1463.8,418.9 L1463.9,420.4 L1463.9,421.9 L1464.0,423.4 L1464.1,424.9 L1464.1,426.4 L1464.2,427.9 L1464.3,429.4 L1464.3,430.9 L1464.4,432.4 L1464.4,433.9 L1464.5,435.4 L1464.6,436.9 L1464.6,438.4 L1464.7,439.9 L1464.7,441.4 L1464.8,442.9 L1464.9,444.4 L1464.9,445.9 L1465.0,447.4 L1465.1,448.9 L1465.1,450.4 L1465.2,451.9 L1465.2,453.4 L1465.3,454.9 L1465.4,456.4 L1465.4,457.9 L1465.5,459.4 L1465.5,460.9 L1465.6,462.4 L1465.7,463.9 L1465.7,465.4 L1465.8,466.9 L1465.8,468.4 L1465.9,469.9 L1466.0,471.4 L1466.0,472.9 L1466.1,474.4 L1466.1,475.9 L1466.2,477.4 L1466.2,478.9 L1466.3,480.4 L1466.4,481.9 L1466.4,483.4 L1466.5,484.9 L1466.5,486.4 L1466.6,487.9 L1466.7,489.4 L1466.7,490.9 L1466.8,492.4 L1466.8,493.9 L1466.9,495.4 L1467.0,496.9 L1467.0,498.4 L1467.1,499.9 L1467.1,501.4 L1467.2,502.9 L1467.3,504.4 L1467.3,505.9 L1467.4,507.4 L1467.5,508.9 L1467.5,510.4 L1467.6,511.9 L1467.6,513.4 L1467.7,514.9 L1467.8,516.4 L1467.8,517.9 L1467.9,519.4 L1468.0,520.9 L1468.0,522.4 L1468.1,523.9 L1468.1,525.4 L1468.2,526.9 L1468.3,528.4 L1468.3,529.9 L1468.4,531.4 L1468.5,532.9 L1468.5,534.4 L1468.6,535.9 L1468.6,537.4 L1468.7,538.9 L1468.8,540.4 L1468.8,541.9 L1468.9,543.4 L1469.0,544.9 L1469.0,546.4 L1469.1,547.9 L1469.1,549.4 L1469.2,550.9 L1469.3,552.4 L1469.3,553.9 L1469.4,555.4 L1469.4,556.9 L1469.5,558.4 L1469.6,559.9 L1469.6,561.4 L1469.7,562.9 L1469.8,564.4 L1469.8,565.9 L1469.9,567.4 L1470.0,568.9 L1470.0,570.4 L1470.1,571.9 L1470.2,573.4 L1470.2,574.9 L1470.3,576.4 L1470.4,577.9 L1470.4,579.4 L1470.5,580.9 L1470.6,582.4 L1470.6,583.9 L1470.7,585.4 L1470.8,586.9 L1470.8,588.4 L1470.9,589.9 L1471.0,591.4 L1471.1,592.9 L1471.1,594.4 L1471.2,595.9 L1471.3,597.4 L1471.4,598.9 L1471.4,600.4 L1471.5,601.9 L1471.6,603.4 L1471.7,604.9 L1471.7,606.4 L1471.8,607.9 L1471.9,609.4 L1472.0,610.9 L1472.1,612.4 L1472.1,613.9 L1472.2,615.4 L1472.3,616.9 L1472.4,618.4 L1472.5,619.9 L1472.5,621.4 L1472.6,622.9 L1472.7,624.4 L1472.8,625.9 L1472.9,627.4 L1473.0,628.9 L1473.1,630.4 L1473.1,631.9 L1473.2,633.4 L1473.3,634.9 L1473.4,636.4 L1473.5,637.9 L1473.6,639.4 L1473.7,640.9 L1473.8,642.4 L1473.9,643.9 L1474.0,645.4 L1474.1,646.9 L1474.2,648.4 L1474.3,649.9 L1474.4,651.3 L1474.5,652.8 L1474.6,654.3 L1474.7,655.8 L1474.8,657.3 L1474.9,658.8 L1475.0,660.3 L1475.1,661.8 L1475.2,663.3 L1475.3,664.8 L1475.4,666.3 L1475.5,667.8 L1475.7,669.3 L1475.8,670.8 L1475.9,672.3 L1476.0,673.8 L1476.1,675.3 L1476.3,676.8 L1476.4,678.3 L1476.5,679.8 L1476.7,681.3 L1476.8,682.8 L1476.9,684.3 L1477.1,685.8 L1477.2,687.3 L1477.4,688.7 L1477.5,690.2 L1477.7,691.7 L1477.8,693.2 L1477.9,694.7 L1478.1,696.2 L1478.2,697.7 L1478.4,699.2 L1478.5,700.7 L1478.6,702.2 L1478.8,703.7 L1478.9,705.2 L1479.1,706.7 L1479.2,708.2 L1479.3,709.7 L1479.5,711.2 L1479.6,712.7 L1479.7,714.2 L1479.9,715.6 L1480.0,717.1 L1480.1,718.6 L1480.3,720.1 L1480.4,721.6 L1480.6,723.1 L1480.7,724.6 L1480.9,726.1 L1481.0,727.6 L1481.2,729.1 L1481.3,730.6 L1481.5,732.1 L1481.6,733.6 L1481.8,735.1 L1481.9,736.6 L1482.1,738.1 L1482.2,739.5 L1482.4,741.0 L1482.6,742.5 L1482.7,744.0 L1482.9,745.5 L1483.0,747.0 L1483.2,748.5 L1483.4,750.0 L1483.5,751.5 L1483.7,753.0 L1483.9,754.5 L1484.0,756.0 L1484.2,757.5 L1484.3,758.9 L1484.5,760.4 L1484.7,761.9 L1484.8,763.4 L1485.0,764.9 L1485.1,766.4 L1485.3,767.9 L1485.5,769.4 L1485.7,770.9 L1485.8,772.4 L1486.0,773.9 L1486.2,775.4 L1486.4,776.8 L1486.6,778.3 L1486.8,779.8 L1487.0,781.3 L1487.2,782.8 L1487.5,784.3 L1487.7,785.8 L1487.9,787.2 L1488.2,788.7 L1488.5,790.2 L1488.8,791.6 L1489.1,793.1 L1489.4,794.6 L1489.8,796.0 L1490.2,797.5 L1490.5,798.9 L1490.9,800.4 L1491.3,801.8 L1491.8,803.3 L1492.2,804.7 L1492.6,806.1 L1493.1,807.6 L1493.5,809.0 L1494.0,810.4 L1494.4,811.9 L1494.8,813.3 L1495.2,814.8 L1495.6,816.2 L1496.0,817.7 L1496.4,819.2 L1496.7,820.6 L1497.1,822.1 L1497.5,823.6 L1497.8,825.0 L1498.2,826.5 L1498.5,828.0 L1498.9,829.4 L1499.3,830.9 L1499.7,832.3 L1500.1,833.7 L1500.6,835.1 L1501.1,836.5 L1501.7,837.9 L1502.2,839.2 L1502.9,840.6 L1503.6,841.9 L1504.3,843.2 L1505.1,844.4 L1505.9,845.7 L1506.8,846.9 L1507.7,848.1 L1508.7,849.2 L1509.6,850.3 L1510.7,851.4 L1511.7,852.5 L1512.8,853.5 L1513.9,854.5 L1515.1,855.4 L1516.3,856.3 L1517.5,857.2 L1518.7,858.0 L1520.0,858.8 L1521.2,859.6 L1522.5,860.4 L1523.8,861.2 L1525.1,861.9 L1526.4,862.6 L1527.7,863.3 L1529.1,864.0 L1530.4,864.7 L1531.7,865.4 L1533.1,866.1 L1534.4,866.8 L1535.8,867.4 L1537.1,868.1 L1538.5,868.7 L1539.9,869.3 L1541.2,869.9 L1542.6,870.5 L1544.0,871.1 L1545.4,871.7 L1546.8,872.3 L1548.2,872.8 L1549.6,873.4 L1551.0,873.9 L1552.4,874.4 L1553.8,874.9 L1555.2,875.4 L1556.6,875.9 L1558.0,876.4 L1559.5,876.8 L1560.9,877.2 L1562.3,877.7 L1563.8,878.1 L1565.2,878.5 L1566.7,878.8 L1568.1,879.2 L1569.6,879.6 L1571.1,879.9 L1572.5,880.3 L1574.0,880.6 L1575.4,880.9 L1576.9,881.3 L1578.4,881.6 L1579.8,881.9 L1581.3,882.2 L1582.8,882.5 L1584.3,882.8 L1585.7,883.1 L1587.2,883.4 L1588.7,883.7 L1590.1,884.0 L1591.6,884.3 L1593.1,884.6 L1594.6,884.9 L1596.0,885.1 L1597.5,885.4 L1599.0,885.6 L1600.5,885.8 L1602.0,886.1 L1603.4,886.3 L1604.9,886.5 L1606.4,886.7 L1607.9,886.9 L1609.4,887.1 L1610.9,887.3 L1612.4,887.5 L1613.9,887.7 L1615.3,887.9 L1616.8,888.1 L1618.3,888.3 L1619.8,888.5 L1621.3,888.7 L1622.8,888.9 L1624.3,889.1 L1625.8,889.3 L1627.3,889.5 L1628.7,889.7 L1630.2,889.9 L1631.7,890.1 L1633.2,890.3 L1634.7,890.5 L1636.2,890.7 L1637.7,890.9 L1639.2,891.1 L1640.6,891.3 L1642.1,891.5 L1643.6,891.7 L1645.1,891.9 L1646.6,892.1 L1648.1,892.3 L1649.6,892.5 L1651.1,892.6 L1652.5,892.8 L1654.0,893.0 L1655.5,893.2 L1657.0,893.4 L1658.5,893.6 L1660.0,893.8 L1661.5,894.0 L1663.0,894.1 L1664.5,894.3 L1666.0,894.5 L1667.4,894.6 L1668.9,894.8 L1670.4,895.0 L1671.9,895.1 L1673.4,895.3 L1674.9,895.5 L1676.4,895.6 L1677.9,895.8 L1679.4,895.9 L1680.9,896.0 L1682.4,896.2 L1683.9,896.3 L1685.4,896.4 L1686.9,896.5 L1688.4,896.6 L1689.9,896.7 L1691.4,896.8 L1692.9,896.9 L1694.4,897.0 L1695.9,897.1 L1697.4,897.2 L1698.9,897.3 L1700.4,897.3 L1701.9,897.4 L1703.3,897.5 L1704.9,897.4 L1706.4,897.3 L1707.9,897.3 L1709.4,897.2 L1710.9,897.1 L1712.4,897.0 L1713.9,896.9 L1715.4,896.8 L1716.9,896.7 L1718.4,896.6 L1719.9,896.5 L1721.4,896.4 L1722.9,896.3 L1724.4,896.2 L1725.9,896.0 L1727.4,895.9 L1728.9,895.8 L1730.3,895.6 L1731.8,895.5 L1733.3,895.3 L1734.8,895.1 L1736.3,895.0 L1737.8,894.8 L1739.3,894.6 L1740.8,894.5 L1742.3,894.3 L1743.8,894.1 L1745.3,894.0 L1746.8,893.8 L1748.2,893.6 L1749.7,893.4 L1751.2,893.2 L1752.7,893.0 L1754.2,892.8 L1755.7,892.6 L1757.2,892.5 L1758.7,892.3 L1760.2,892.1 L1761.6,891.9 L1763.1,891.7 L1764.6,891.5 L1766.1,891.3 L1767.6,891.1 L1769.1,890.9 L1770.6,890.7 L1772.1,890.5 L1773.5,890.3 L1775.0,890.1 L1776.5,889.9 L1778.0,889.7 L1779.5,889.5 L1781.0,889.3 L1782.5,889.1 L1784.0,888.9 L1785.5,888.7 L1786.9,888.5 L1788.4,888.3 L1789.9,888.1 L1791.4,887.9 L1792.9,887.7 L1794.4,887.5 L1795.9,887.3 L1797.4,887.1 L1798.8,886.9 L1800.3,886.7 L1801.8,886.5 L1803.3,886.3 L1804.8,886.1 L1806.3,885.8 L1807.7,885.6 L1809.2,885.4 L1810.7,885.1 L1812.2,884.9 L1813.7,884.6 L1815.1,884.3 L1816.6,884.0 L1818.1,883.7 L1819.6,883.4 L1821.0,883.1 L1822.5,882.8 L1824.0,882.5 L1825.4,882.2 L1826.9,881.9 L1828.4,881.6 L1829.8,881.3 L1831.3,880.9 L1832.8,880.6 L1834.2,880.3 L1835.7,879.9 L1837.1,879.6 L1838.6,879.2 L1840.1,878.8 L1841.5,878.5 L1843.0,878.1 L1844.4,877.7 L1845.8,877.2 L1847.3,876.8 L1848.7,876.4 L1850.1,875.9 L1851.6,875.4 L1853.0,874.9 L1854.4,874.4 L1855.8,873.9 L1857.2,873.4 L1858.6,872.8 L1860.0,872.3 L1861.4,871.7 L1862.8,871.1 L1864.1,870.5 L1865.5,869.9 L1866.9,869.3 L1868.2,868.7 L1869.6,868.1 L1871.0,867.4 L1872.3,866.8 L1873.7,866.1 L1875.0,865.4 L1876.3,864.7 L1877.7,864.0 L1879.0,863.3 L1880.3,862.6 L1881.6,861.9 L1882.9,861.2 L1884.2,860.4 L1885.5,859.6 L1886.8,858.8 L1888.0,858.0 L1889.3,857.2 L1890.5,856.3 L1891.7,855.4 L1892.8,854.5 L1894.0,853.5 L1895.0,852.5 L1896.1,851.4 L1897.1,850.3 L1898.1,849.2 L1899.0,848.1 L1899.9,846.9 L1900.8,845.7 L1901.6,844.4 L1902.4,843.2 L1903.2,841.9 L1903.9,840.6 L1904.5,839.2 L1905.1,837.9 L1905.6,836.5 L1906.2,835.1 L1906.6,833.7 L1907.1,832.3 L1907.5,830.9 L1907.9,829.4 L1908.2,828.0 L1908.6,826.5 L1908.9,825.0 L1909.3,823.6 L1909.6,822.1 L1910.0,820.6 L1910.4,819.2 L1910.7,817.7 L1911.1,816.2 L1911.5,814.8 L1911.9,813.3 L1912.4,811.9 L1912.8,810.4 L1913.2,809.0 L1913.7,807.6 L1914.1,806.1 L1914.6,804.7 L1915.0,803.3 L1915.4,801.8 L1915.8,800.4 L1916.2,798.9 L1916.6,797.5 L1917.0,796.0 L1917.3,794.6 L1917.6,793.1 L1918.0,791.6 L1918.3,790.2 L1918.5,788.7 L1918.8,787.2 L1919.1,785.8 L1919.3,784.3 L1919.5,782.8 L1919.8,781.3 L1920.0,779.8 L1920.2,778.3 L1920.4,776.8 L1920.6,775.4 L1920.7,773.9 L1920.9,772.4 L1921.1,770.9 L1921.3,769.4 L1921.4,767.9 L1921.6,766.4 L1921.8,764.9 L1921.9,763.4 L1922.1,761.9 L1922.2,760.4 L1922.4,758.9 L1922.6,757.5 L1922.7,756.0 L1922.9,754.5 L1923.1,753.0 L1923.2,751.5 L1923.4,750.0 L1923.5,748.5 L1923.7,747.0 L1923.9,745.5 L1924.0,744.0 L1924.2,742.5 L1924.3,741.0 L1924.5,739.5 L1924.7,738.1 L1924.8,736.6 L1925.0,735.1 L1925.1,733.6 L1925.3,732.1 L1925.4,730.6 L1925.6,729.1 L1925.7,727.6 L1925.9,726.1 L1926.0,724.6 L1926.2,723.1 L1926.3,721.6 L1926.5,720.1 L1926.6,718.6 L1926.7,717.1 L1926.9,715.6 L1927.0,714.2 L1927.2,712.7 L1927.3,711.2 L1927.4,709.7 L1927.6,708.2 L1927.7,706.7 L1927.8,705.2 L1928.0,703.7 L1928.1,702.2 L1928.2,700.7 L1928.4,699.2 L1928.5,697.7 L1928.7,696.2 L1928.8,694.7 L1929.0,693.2 L1929.1,691.7 L1929.2,690.2 L1929.4,688.7 L1929.5,687.3 L1929.7,685.8 L1929.8,684.3 L1929.9,682.8 L1930.1,681.3 L1930.2,679.8 L1930.4,678.3 L1930.5,676.8 L1930.6,675.3 L1930.7,673.8 L1930.9,672.3 L1931.0,670.8 L1931.1,669.3 L1931.2,667.8 L1931.3,666.3 L1931.4,664.8 L1931.5,663.3 L1931.6,661.8 L1931.8,660.3 L1931.9,658.8 L1932.0,657.3 L1932.1,655.8 L1932.2,654.3 L1932.3,652.8 L1932.4,651.3 L1932.5,649.9 L1932.6,648.4 L1932.7,646.9 L1932.8,645.4 L1932.9,643.9 L1933.0,642.4 L1933.1,640.9 L1933.1,639.4 L1933.2,637.9 L1933.3,636.4 L1933.4,634.9 L1933.5,633.4 L1933.6,631.9 L1933.7,630.4 L1933.8,628.9 L1933.9,627.4 L1934.0,625.9 L1934.0,624.4 L1934.1,622.9 L1934.2,621.4 L1934.3,619.9 L1934.4,618.4 L1934.5,616.9 L1934.5,615.4 L1934.6,613.9 L1934.7,612.4 L1934.8,610.9 L1934.9,609.4 L1934.9,607.9 L1935.0,606.4 L1935.1,604.9 L1935.2,603.4 L1935.2,601.9 L1935.3,600.4 L1935.4,598.9 L1935.5,597.4 L1935.5,595.9 L1935.6,594.4 L1935.7,592.9 L1935.8,591.4 L1935.8,589.9 L1935.9,588.4 L1936.0,586.9 L1936.0,585.4 L1936.1,583.9 L1936.2,582.4 L1936.3,580.9 L1936.3,579.4 L1936.4,577.9 L1936.5,576.4 L1936.5,574.9 L1936.6,573.4 L1936.7,571.9 L1936.7,570.4 L1936.8,568.9 L1936.9,567.4 L1936.9,565.9 L1937.0,564.4 L1937.0,562.9 L1937.1,561.4 L1937.2,559.9 L1937.2,558.4 L1937.3,556.9 L1937.4,555.4 L1937.4,553.9 L1937.5,552.4 L1937.6,550.9 L1937.6,549.4 L1937.7,547.9 L1937.7,546.4 L1937.8,544.9 L1937.9,543.4 L1937.9,541.9 L1938.0,540.4 L1938.0,538.9 L1938.1,537.4 L1938.2,535.9 L1938.2,534.4 L1938.3,532.9 L1938.4,531.4 L1938.4,529.9 L1938.5,528.4 L1938.5,526.9 L1938.6,525.4 L1938.7,523.9 L1938.7,522.4 L1938.8,520.9 L1938.9,519.4 L1938.9,517.9 L1939.0,516.4 L1939.0,514.9 L1939.1,513.4 L1939.2,511.9 L1939.2,510.4 L1939.3,508.9 L1939.4,507.4 L1939.4,505.9 L1939.5,504.4 L1939.5,502.9 L1939.6,501.4 L1939.7,499.9 L1939.7,498.4 L1939.8,496.9 L1939.8,495.4 L1939.9,493.9 L1940.0,492.4 L1940.0,490.9 L1940.1,489.4 L1940.1,487.9 L1940.2,486.4 L1940.3,484.9 L1940.3,483.4 L1940.4,481.9 L1940.4,480.4 L1940.5,478.9 L1940.6,477.4 L1940.6,475.9 L1940.7,474.4 L1940.7,472.9 L1940.8,471.4 L1940.9,469.9 L1940.9,468.4 L1941.0,466.9 L1941.0,465.4 L1941.1,463.9 L1941.2,462.4 L1941.2,460.9 L1941.3,459.4 L1941.3,457.9 L1941.4,456.4 L1941.5,454.9 L1941.5,453.4 L1941.6,451.9 L1941.6,450.4 L1941.7,448.9 L1941.8,447.4 L1941.8,445.9 L1941.9,444.4 L1941.9,442.9 L1942.0,441.4 L1942.1,439.9 L1942.1,438.4 L1942.2,436.9 L1942.2,435.4 L1942.3,433.9 L1942.4,432.4 L1942.4,430.9 L1942.5,429.4 L1942.6,427.9 L1942.6,426.4 L1942.7,424.9 L1942.7,423.4 L1942.8,421.9 L1942.9,420.4 L1942.9,418.9 L1943.0,417.4 L1943.1,415.9 L1943.1,414.4 L1943.2,412.9 L1943.3,411.4 L1943.3,409.9 L1943.4,408.4 L1943.4,406.9 L1943.5,405.4 L1943.6,403.9 L1943.6,402.4 L1943.7,400.9 L1943.8,399.4 L1943.8,397.9 L1943.9,396.5 L1943.9,395.0 L1944.0,393.5 L1944.1,392.0 L1944.1,390.5 L1944.2,389.0 L1944.3,387.5 L1944.3,386.0 L1944.4,384.5 L1944.5,383.0 L1944.5,381.5 L1944.6,380.0 L1944.7,378.5 L1944.7,377.0 L1944.8,375.5 L1944.9,374.0 L1944.9,372.5 L1945.0,371.0 L1945.1,369.5 L1945.2,368.0 L1945.2,366.5 L1945.3,365.0 L1945.4,363.5 L1945.4,362.0 L1945.5,360.5 L1945.6,359.0 L1945.7,357.5 L1945.7,356.0 L1945.8,354.5 L1945.9,353.0 L1946.0,351.5 L1946.1,350.0 L1946.2,348.5 L1946.2,347.0 L1946.3,345.5 L1946.4,344.0 L1946.5,342.5 L1946.6,341.0 L1946.7,339.5 L1946.8,338.0 L1946.8,336.5 L1946.9,335.0 L1947.0,333.5 L1947.1,332.0 L1947.2,330.5 L1947.3,329.0 L1947.4,327.5 L1947.5,326.0 L1947.6,324.5 L1947.6,323.0 L1947.7,321.5 L1947.8,320.0 L1947.9,318.5 L1948.0,317.0 L1948.1,315.5 L1948.2,314.0 L1948.2,312.5 L1948.3,311.0 L1948.4,309.5 L1948.5,308.0 L1948.5,306.5 L1948.6,305.0 L1948.7,303.5 L1948.8,302.0 L1948.8,300.5 L1948.9,299.0 L1949.0,297.5 L1949.1,296.0 L1949.1,294.5 L1949.2,293.0 L1949.3,291.5 L1949.3,290.0 L1949.4,288.5 L1949.5,287.0 L1949.5,285.5 L1949.6,284.0 L1949.6,282.5 L1949.7,281.0 L1949.8,279.5 L1949.8,278.0 L1949.9,276.5 L1950.0,275.0 L1950.0,273.5 L1950.1,272.0 L1950.1,270.5 L1950.2,269.0 L1950.3,267.5 L1950.3,266.0 L1950.4,264.5 L1950.4,263.0 L1950.5,261.5 L1950.6,260.0 L1950.6,258.5 L1950.7,257.0 L1950.8,255.5 L1950.8,254.0 L1950.9,252.5 L1951.0,251.0 L1951.0,249.5 L1951.1,248.0 L1951.2,246.5 L1951.3,245.0 L1951.3,243.5 L1951.4,242.0 L1951.5,240.5 L1951.6,239.0 L1951.6,237.5 L1951.7,236.0 L1951.8,234.5 L1951.9,233.0 L1952.0,231.5 L1952.1,230.1 L1952.2,228.6 L1952.3,227.1 L1952.4,225.6 L1952.5,224.1 L1952.6,222.6 L1952.7,221.1 L1952.8,219.6 L1952.9,218.1 L1953.0,216.6 L1953.1,215.1 L1953.2,213.6 L1953.3,212.1 L1953.4,210.6 L1953.5,209.1 L1953.6,207.6 L1953.7,206.1 L1953.8,204.6 L1953.9,203.1 L1954.0,201.6 L1954.2,200.1 L1954.3,198.6 L1954.4,197.1 L1954.5,195.6 L1954.6,194.1 L1954.7,192.6 L1954.8,191.1 L1955.0,189.6 L1955.1,188.1 L1955.2,186.6 L1955.3,185.1 L1955.4,183.6 L1955.5,182.1 L1955.7,180.6 L1955.8,179.2 L1955.9,177.7 L1956.0,176.2 L1956.1,174.7 L1956.3,173.2 L1956.4,171.7 L1956.5,170.2 L1956.7,168.7 L1956.8,167.2 L1956.9,165.7 L1957.1,164.2 L1957.2,162.7 L1957.4,161.2 L1957.6,159.7 L1957.7,158.2 L1957.9,156.7 L1958.1,155.3 L1958.2,153.8 L1958.4,152.3 L1958.6,150.8 L1958.8,149.3 L1959.0,147.8 L1959.2,146.3 L1959.4,144.8 L1959.6,143.3 L1959.8,141.9 L1960.0,140.4 L1960.2,138.9 L1960.4,137.4 L1960.6,135.9 L1960.8,134.4 L1961.1,132.9 L1961.3,131.5 L1961.5,130.0 L1961.7,128.5 L1961.9,127.0 L1962.2,125.5 L1962.4,124.0 L1962.6,122.5 L1962.9,121.1 L1963.1,119.6 L1963.4,118.1 L1963.6,116.6 L1963.9,115.1 L1964.1,113.7 L1964.4,112.2 L1964.6,110.7 L1964.9,109.2 L1965.2,107.8 L1965.5,106.3 L1965.8,104.8 L1966.1,103.3 L1966.4,101.9 L1966.7,100.4 L1967.1,99.0 L1967.5,97.5 L1967.9,96.1 L1968.3,94.6 L1968.8,93.2 L1969.3,91.8 L1969.9,90.4 L1970.5,89.1 L1971.1,87.7 L1971.8,86.4 L1972.6,85.2 L1973.4,83.9 L1974.3,82.8 L1975.2,81.6 L1976.2,80.5 L1977.3,79.5 L1978.4,78.5 L1979.5,77.6 L1980.7,76.7 L1982.0,75.9 L1983.3,75.2 L1984.6,74.5 L1985.9,73.9 L1987.3,73.4 L1988.7,72.9 L1990.1,72.4 L1991.5,72.1 L1993.0,71.8 L1994.5,71.6 L1995.9,71.4 L1997.4,71.3 L1998.9,71.2 L2000.4,71.1 L2001.9,71.1 L2003.4,71.0 L2004.9,71.0 L2006.4,71.0 L2007.9,71.0 L2009.4,71.0 L2010.9,71.0 L2012.4,71.0 L2013.9,71.0 L2015.4,71.0 L2016.9,71.1 L2018.4,71.1 L2019.9,71.1 L2021.4,71.1 L2022.9,71.1 L2024.4,71.1 L2025.9,71.1 L2027.4,71.2 L2028.9,71.2 L2030.4,71.2 L2031.9,71.2 L2033.4,71.2 L2034.9,71.2 L2036.4,71.3 L2037.9,71.3 L2039.4,71.3 L2040.9,71.3 L2042.4,71.3 L2043.9,71.4 L2045.4,71.4 L2046.9,71.4 L2048.4,71.4 L2049.9,71.5 L2051.4,71.5 L2052.9,71.5 L2054.4,71.5 L2055.9,71.5 L2057.4,71.6 L2058.9,71.6 L2060.4,71.6 L2061.9,71.6 L2063.4,71.7 L2064.9,71.7 L2066.4,71.7 L2067.9,71.7 L2069.4,71.8 L2070.9,71.8 L2072.4,71.8 L2073.9,71.8 L2075.4,71.9 L2076.9,71.9 L2078.4,71.9 L2079.9,71.9 L2081.4,72.0 L2082.9,72.0 L2084.4,72.0 L2085.9,72.1 L2087.4,72.1 L2088.9,72.1 L2090.4,72.2 L2091.9,72.2 L2093.4,72.2 L2094.9,72.2 L2096.4,72.3 L2097.9,72.3 L2099.4,72.3 L2101.0,72.4 L2102.5,72.4 L2104.0,72.4 L2105.5,72.5 L2107.0,72.5 L2108.5,72.5 L2110.0,72.5 L2111.5,72.6 L2113.0,72.6 L2114.5,72.6 L2116.0,72.6 L2117.5,72.7 L2119.0,72.7 L2120.5,72.7 L2122.0,72.7 L2123.5,72.8 L2125.0,72.8 L2126.5,72.8 L2128.0,72.8 L2129.5,72.9 L2131.0,72.9 L2132.5,72.9 L2134.0,72.9 L2135.5,72.9 L2137.0,73.0 L2138.5,73.0 L2140.0,73.0 L2141.5,73.0 L2143.0,73.0 L2144.5,73.1 L2146.0,73.1 L2147.5,73.1 L2149.0,73.1 L2150.5,73.1 L2152.0,73.2 L2153.5,73.2 L2155.0,73.2 L2156.5,73.2 L2158.0,73.2 L2159.5,73.2 L2161.0,73.3 L2162.5,73.3 L2164.0,73.3 L2165.5,73.3 L2167.0,73.3 L2168.5,73.3 L2170.0,73.4 L2171.5,73.4 L2173.0,73.4 L2174.5,73.4 L2176.0,73.4 L2177.5,73.4 L2179.0,73.5 L2180.5,73.5 L2182.0,73.5 L2183.5,73.5 L2185.0,73.5 L2186.5,73.5 L2188.0,73.5 L2189.5,73.6 L2191.0,73.6 L2192.5,73.6 L2194.0,73.6" stroke="#000"/>
<path d="M231.5,128.7 L370.0,128.0 L385.0,126.5 L433.0,125.3 L458.7,148.7 L465.7,184.0 L469.3,218.5 L471.6,251.8 L473.7,288.0 L476.0,320.7 L477.7,356.0 L479.3,388.8 L481.1,425.0 L483.0,458.3 L484.3,491.9 L486.0,526.3 L487.5,560.8 L488.8,595.3 L491.4,624.4 L493.1,663.9 L495.8,697.5 L497.5,731.0 L502.0,766.4 L506.4,800.0 L516.1,831.9 L524.0,847.0 L533.8,858.4 L545.0,865.0 L556.0,869.5 L569.1,873.7 L582.6,877.9 L600.8,881.8 L616.6,884.9 L632.5,887.0 L659.6,891.2 L680.5,894.0 L703.5,896.6 L722.1,898.0 L740.8,896.6 L763.8,894.0 L784.6,891.2 L811.8,887.0 L827.6,884.9 L843.5,881.8 L861.6,877.9 L875.1,873.7 L888.2,869.5 L899.2,865.0 L910.5,858.4 L920.2,847.0 L928.1,831.9 L937.9,800.0 L942.2,766.4 L946.8,731.0 L948.5,697.5 L951.1,663.9 L952.9,624.4 L955.5,595.3 L956.8,560.8 L958.2,526.3 L960.0,491.9 L961.2,458.3 L963.1,425.0 L965.0,388.8 L966.5,356.0 L968.2,320.7 L970.5,288.0 L972.6,251.8 L975.0,218.5 L978.5,184.0 L981.5,155.0 L1006.0,125.2 L1056.0,126.5 L1124.0,127.6 L1192.0,128.3 L1260.0,128.3 L1329.0,127.4 L1388.0,126.1 L1427.5,126.3 L1443.5,163.0 L1447.0,184.0 L1450.5,218.5 L1452.8,251.8 L1455.0,288.0 L1457.2,320.7 L1459.0,356.0 L1460.5,388.8 L1462.3,425.0 L1464.2,458.3 L1465.5,491.9 L1467.2,526.3 L1468.8,560.8 L1470.0,595.3 L1472.7,624.4 L1474.3,663.9 L1477.0,697.5 L1478.8,731.0 L1483.2,766.4 L1487.7,800.0 L1497.3,831.9 L1505.2,847.0 L1515.0,858.4 L1526.2,865.0 L1537.2,869.5 L1550.3,873.7 L1563.8,877.9 L1582.0,881.8 L1597.8,884.9 L1613.8,887.0 L1640.8,891.2 L1661.8,894.0 L1684.8,896.6 L1703.3,898.0 L1722.0,896.6 L1745.0,894.0 L1765.9,891.2 L1793.0,887.0 L1808.9,884.9 L1824.7,881.8 L1842.9,877.9 L1856.4,873.7 L1869.5,869.5 L1880.5,865.0 L1891.7,858.4 L1901.5,847.0 L1909.4,831.9 L1919.1,800.0 L1923.5,766.4 L1928.0,731.0 L1929.7,697.5 L1932.4,663.9 L1934.1,624.4 L1936.7,595.3 L1938.0,560.8 L1939.5,526.3 L1941.2,491.9 L1942.5,458.3 L1944.4,425.0 L1946.2,388.8 L1947.8,356.0 L1949.5,320.7 L1951.8,288.0 L1953.9,251.8 L1956.2,218.5 L1959.8,184.0 L1966.5,145.0 L2000.0,125.5 L2052.0,127.0 L2120.0,127.9 L2194.0,129.0 L2200.0,129.0" stroke="#f00" stroke-dasharray="29.5 38.1 29.5 39.6 29.5 38.8 29.5 40.1 29.5 39.7 29.5 39.0 29.5 39.2 29.5 38.6 29.5 39.1 29.5 39.2 29.5 39.2 29.5 38.7 29.5 38.9 29.5 37.9 29.5 39.5 29.5 39.3 29.5 38.9 29.5 39.4 29.5 38.8 29.5 42.5 29.5 39.4 29.5 39.3 29.5 38.9 29.5 38.9 29.5 38.9 29.5 38.9 29.5 39.1 29.5 38.7 29.5 39.3 29.5 38.5 29.5 40.0 29.5 38.4 29.5 38.5 29.5 38.8 29.5 39.2 29.5 29.9 29.5 33.4 29.5 40.5 29.5 39.7 29.5 38.6 29.5 39.1 29.5 39.1 29.5 39.1 29.5 39.1 29.5 39.1 29.5 39.4 29.5 39.7 29.5 39.7 29.5 39.2 29.5 36.1 29.5 39.6 29.5 39.6 29.5 39.6 29.5 39.6 29.5 39.6 29.5 39.0 29.5 39.3 29.5 39.3 29.5 39.3 29.5 39.3 29.5 39.0 29.5 38.7 29.5 38.9 29.5 36.4 29.5 40.3 29.5 38.6 29.5 38.6 29.5 39.0 29.5 99999.0" stroke-dashoffset="-0.0"/>
<path d="M231.5,306.4 L315.0,305.3 L400.0,303.8 L437.4,303.2 L449.0,304.2 L461.0,326.0 L463.0,336.5 L468.4,375.5 L472.8,416.2 L476.0,456.5 L478.1,497.5 L480.2,538.2 L482.2,579.4 L484.3,619.1 L486.6,661.2 L489.6,702.8 L492.7,743.4 L497.3,783.7 L504.9,823.8 L511.0,845.0 L518.6,860.3 L530.0,869.5 L545.0,876.5 L557.9,880.8 L598.3,886.2 L639.0,890.2 L678.7,893.8 L722.1,897.5 L765.5,893.8 L805.2,890.2 L846.0,886.2 L886.4,880.8 L899.2,876.5 L914.2,869.5 L925.6,860.3 L933.2,845.0 L939.4,823.8 L947.0,783.7 L951.5,743.4 L954.6,702.8 L957.6,661.2 L960.0,619.1 L962.0,579.4 L964.0,538.2 L966.1,497.5 L968.2,456.5 L971.5,416.2 L975.9,375.5 L979.8,340.2 L984.0,322.0 L992.5,308.4 L1001.0,303.5 L1032.5,303.2 L1073.3,303.9 L1114.2,305.9 L1154.9,306.1 L1196.0,306.7 L1236.6,306.7 L1277.5,306.1 L1318.4,305.4 L1359.3,303.9 L1417.4,303.2 L1431.0,304.0 L1440.5,320.0 L1443.2,333.0 L1449.7,375.5 L1454.0,416.2 L1457.2,456.5 L1459.3,497.5 L1461.5,538.2 L1463.5,579.4 L1465.5,619.1 L1467.8,661.2 L1470.8,702.8 L1474.0,743.4 L1478.5,783.7 L1486.2,823.8 L1492.2,845.0 L1499.8,860.3 L1511.2,869.5 L1526.2,876.5 L1539.2,880.8 L1579.5,886.2 L1620.2,890.2 L1660.0,893.8 L1703.3,897.5 L1746.8,893.8 L1786.5,890.2 L1827.2,886.2 L1867.6,880.8 L1880.5,876.5 L1895.5,869.5 L1906.9,860.3 L1914.5,845.0 L1920.6,823.8 L1928.2,783.7 L1932.8,743.4 L1935.9,702.8 L1938.9,661.2 L1941.2,619.1 L1943.3,579.4 L1945.3,538.2 L1947.4,497.5 L1949.5,456.5 L1952.7,416.2 L1957.1,375.5 L1960.0,344.6 L1965.0,326.0 L1972.3,310.1 L1981.0,304.0 L2012.6,303.0 L2052.8,304.0 L2093.4,305.7 L2134.1,306.0 L2175.6,307.0 L2194.0,307.3 L2200.0,307.4" stroke="#000080" stroke-dasharray="5.3 35.2 5.3 35.6 5.3 35.2 5.3 35.5 5.3 35.3 5.3 39.6 5.3 36.3 5.3 35.6 5.3 35.1 5.3 35.8 5.3 35.5 5.3 35.9 5.3 34.5 5.3 36.9 5.3 36.4 5.3 33.7 5.3 36.6 5.3 35.8 5.3 34.0 5.3 39.5 5.3 35.4 5.3 35.1 5.3 35.6 5.3 39.1 5.3 31.0 5.3 37.5 5.3 35.5 5.3 35.7 5.3 30.3 5.3 39.4 5.3 36.1 5.3 35.4 5.3 36.0 5.3 35.5 5.3 34.5 5.3 36.0 5.3 36.0 5.3 36.0 5.3 36.0 5.3 36.0 5.3 35.6 5.3 35.6 5.3 29.4 5.3 36.0 5.3 35.5 5.3 35.6 5.3 35.4 5.3 35.8 5.3 35.3 5.3 35.6 5.3 35.6 5.3 35.6 5.3 11.9 5.3 35.6 5.3 40.3 5.3 36.7 5.3 35.6 5.3 35.6 5.3 35.6 5.3 35.6 5.3 35.6 5.3 35.6 5.3 35.6 5.3 35.4 5.3 35.5 5.3 35.5 5.3 35.7 5.3 35.7 5.3 36.1 5.3 36.0 5.3 35.2 5.3 35.5 5.3 35.6 5.3 37.2 5.3 35.4 5.3 35.4 5.3 35.4 5.3 27.4 5.3 38.3 5.3 38.3 5.3 35.0 5.3 36.4 5.3 35.4 5.3 35.5 5.3 35.8 5.3 35.8 5.3 35.8 5.3 35.8 5.3 35.8 5.3 34.7 5.3 35.6 5.3 31.5 5.3 36.9 5.3 34.9 5.3 35.3 5.3 35.4 5.3 36.2 5.3 35.4 5.3 99999.0" stroke-dashoffset="-0.0"/>
<path d="M231.5,651.3 L300.0,650.6 L386.0,648.9 L414.0,648.5 L436.6,647.0 L461.3,654.2 L469.3,677.5 L473.7,704.5 L477.2,727.5 L480.0,758.3 L483.5,780.6 L487.1,808.5 L491.6,830.7 L497.8,859.0 L502.5,869.5 L509.0,877.2 L520.0,884.5 L535.6,890.2 L557.9,892.8 L589.6,894.7 L639.0,896.3 L722.1,898.0 L805.2,896.3 L854.6,894.7 L886.4,892.8 L908.6,890.2 L924.2,884.5 L935.2,877.2 L941.8,869.5 L946.5,859.0 L952.6,830.7 L957.1,808.5 L960.8,780.6 L964.2,758.3 L967.0,727.5 L970.5,704.5 L975.0,677.5 L979.5,660.5 L985.0,651.0 L992.0,648.7 L1015.0,648.7 L1119.0,651.0 L1200.0,652.0 L1222.6,652.0 L1326.0,650.0 L1400.0,648.5 L1425.5,648.3 L1436.0,649.5 L1442.0,654.0 L1446.7,664.0 L1450.5,677.5 L1455.0,704.5 L1458.5,727.5 L1461.2,758.3 L1464.8,780.6 L1468.3,808.5 L1472.8,830.7 L1479.0,859.0 L1483.8,869.5 L1490.2,877.2 L1501.2,884.5 L1516.8,890.2 L1539.2,892.8 L1570.8,894.7 L1620.2,896.3 L1703.3,898.0 L1786.5,896.3 L1835.9,894.7 L1867.6,892.8 L1889.9,890.2 L1905.5,884.5 L1927.7,859.0 L1933.9,830.7 L1938.4,808.5 L1942.0,780.6 L1945.5,758.3 L1948.3,727.5 L1951.8,704.5 L1956.2,677.5 L1960.0,665.7 L1964.4,655.0 L1967.5,649.5 L1988.2,648.3 L2016.5,648.9 L2054.5,649.7 L2092.5,650.3 L2119.9,651.0 L2157.9,651.7 L2194.0,652.2 L2200.0,652.3" stroke="#404040" stroke-dasharray="26.0 22.5 5.3 22.1 5.3 22.2 26.0 21.8 5.3 21.6 5.3 21.5 26.0 22.6 5.3 22.2 5.3 22.3 26.0 22.4 5.3 22.0 5.3 22.1 26.0 22.8 5.3 22.3 5.3 22.5 26.0 22.6 5.3 22.1 5.3 22.3 26.0 22.9 5.3 22.4 5.3 22.5 26.0 22.7 5.3 22.2 5.3 22.4 26.0 23.8 5.3 23.1 5.3 23.5 26.0 23.0 5.3 22.5 5.3 22.7 26.0 23.6 5.3 22.9 5.3 23.2 26.0 22.7 5.3 22.2 5.3 22.4 26.0 22.5 5.3 22.1 5.3 22.2 26.0 22.6 5.3 22.2 5.3 22.3 26.0 22.8 37.6 23.8 5.3 23.0 5.3 23.4 26.0 23.1 5.3 22.5 5.3 22.7 26.0 23.1 5.3 22.5 5.3 22.7 26.0 22.6 5.3 22.2 5.3 22.3 26.0 22.6 5.3 22.1 5.3 22.2 26.0 22.7 5.3 22.2 5.3 22.4 26.0 22.7 5.3 22.2 5.3 22.4 26.0 22.7 5.3 22.2 5.3 22.4 26.0 22.0 5.3 21.7 5.3 21.7 26.0 23.1 5.3 22.5 5.3 22.8 26.0 22.5 5.3 22.1 5.3 22.2 26.0 22.6 5.3 22.2 5.3 22.3 26.0 22.6 5.3 22.2 5.3 99999.0" stroke-dashoffset="-0.0"/>
<g fill="#f00" stroke="none"><circle cx="237" cy="854.6" r="4.1"/><circle cx="235.5" cy="868.5" r="4.1"/><circle cx="234.3" cy="882.2" r="4.1"/><circle cx="232.4" cy="896.4" r="4.1"/></g>
</g>
<g font-family="'Liberation Serif', 'Times New Roman', serif" fill="#000">
<text transform="translate(199.80,919.80) scale(0.9450,1)" font-size="70.50" text-anchor="end">0.0</text>
<text transform="translate(199.80,713.70) scale(0.9450,1)" font-size="70.50" text-anchor="end">0.2</text>
<text transform="translate(199.80,507.60) scale(0.9450,1)" font-size="70.50" text-anchor="end">0.4</text>
<text transform="translate(199.80,301.50) scale(0.9450,1)" font-size="70.50" text-anchor="end">0.6</text>
<text transform="translate(199.80,95.40) scale(0.9450,1)" font-size="70.50" text-anchor="end">0.8</text>
<text transform="translate(232.00,982.40) scale(0.9450,1)" font-size="70.50" text-anchor="middle">0.00</text>
<text transform="translate(886.17,982.40) scale(0.9450,1)" font-size="70.50" text-anchor="middle">0.04</text>
<text transform="translate(1540.33,982.40) scale(0.9450,1)" font-size="70.50" text-anchor="middle">0.08</text>
<text transform="translate(2194.50,982.40) scale(0.9450,1)" font-size="70.50" text-anchor="middle">0.12</text>
<text transform="translate(1211.20,1067.80) scale(0.9870,1)" font-size="68.00" text-anchor="middle">Position along radial gap (m)</text>
<text transform="translate(71.20,536.50) rotate(-90) scale(0.9926,1)" font-size="68.00" text-anchor="middle">Magnetic flux density(T)</text>
</g>
<rect x="1087.5" y="334.5" width="286" height="294" fill="#fff" stroke="#000" stroke-width="3"/>
<g font-family="'Liberation Serif', 'Times New Roman', serif" fill="#000" style="word-spacing:1.7px">
<text transform="translate(1094.50,393.00) scale(0.9570,1)" font-size="60.30" text-anchor="start">1.0 A</text>
<text transform="translate(1094.50,464.20) scale(0.9570,1)" font-size="60.30" text-anchor="start">2.0 A</text>
<text transform="translate(1094.50,535.40) scale(0.9570,1)" font-size="60.30" text-anchor="start">3.0 A</text>
<text transform="translate(1094.50,606.60) scale(0.9570,1)" font-size="60.30" text-anchor="start">4.0 A</text>
</g>
<g fill="none" stroke-linecap="round" stroke-width="8">
<path d="M1237,374 H1366" stroke="#404040" stroke-dasharray="25.5 22.5 5.5 22 5.5 22.5"/>
<path d="M1237,445.5 H1366" stroke="#000080" stroke-dasharray="5.5 35.3"/>
<path d="M1237,516.8 H1366" stroke="#f00" stroke-dasharray="29.5 39"/>
<path d="M1237,588 H1366.5" stroke="#000"/>
</g>
</svg>
</body>
</html>
